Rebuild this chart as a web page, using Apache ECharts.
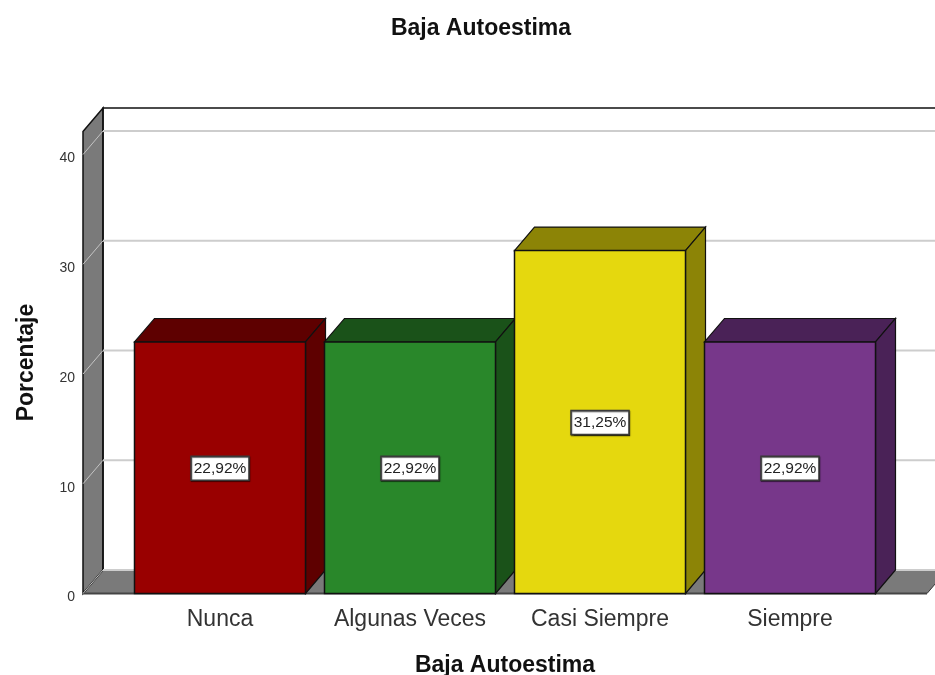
<!DOCTYPE html>
<html>
<head>
<meta charset="utf-8">
<title>Baja Autoestima</title>
<script src="https://cdn.jsdelivr.net/npm/echarts@6/dist/echarts.min.js"></script>
<style>
  html, body { margin: 0; padding: 0; background: #fff; }
  #chart { width: 935px; height: 675px; }
</style>
</head>
<body>
<div id="chart"></div>
<script>
const categories = ['Nunca', 'Algunas Veces', 'Casi Siempre', 'Siempre'];
const values = [22.92, 22.92, 31.25, 22.92];
const yTicks = [0, 10, 20, 30, 40];
const frontColors = ['#990000', '#29872a', '#e5d80e', '#77378a'];
const darkColors = ['#5e0000', '#1a5219', '#8c8406', '#4a2257'];

const FONT = '"Liberation Sans", Arial, sans-serif';
const DX = 20; // depth of the fake 3d box
const DY = -23.5;
const SIDE = 42; // wall/floor overhang past the category bands
const WALL = '#7a7a7a';
const yMax = 42.1;

const chart = echarts.init(document.getElementById('chart'));

function poly(points, fill, stroke, width) {
  return {
    type: 'polygon',
    shape: { points },
    style: { fill, stroke: stroke || null, lineWidth: width || 0 }
  };
}

function renderGrid(params, api) {
  const y = api.coord([0, api.value(0)])[1];
  const x0 = params.coordSys.x - SIDE;
  const x1 = params.coordSys.x + params.coordSys.width + SIDE;
  return {
    type: 'group',
    children: [
      {
        type: 'line',
        shape: { x1: x0, y1: y, x2: x0 + DX, y2: y + DY },
        style: { stroke: '#c4c4c4', lineWidth: 1 }
      },
      {
        type: 'line',
        shape: { x1: x0 + DX, y1: y + DY, x2: x1 + DX, y2: y + DY },
        style: { stroke: '#cdcdcd', lineWidth: 2 }
      }
    ]
  };
}

function renderBox(params, api) {
  const sys = params.coordSys;
  const x0 = sys.x - SIDE;
  const x1 = sys.x + sys.width + SIDE;
  const top = sys.y;
  const bot = sys.y + sys.height;
  return {
    type: 'group',
    children: [
      poly([[x0, bot], [x0 + DX, bot + DY], [x1 + DX, bot + DY], [x1, bot]], WALL, '#333', 1),
      poly([[x0, top], [x0 + DX, top + DY], [x0 + DX, bot + DY], [x0, bot]], WALL, '#111', 1.5),
      {
        type: 'polyline',
        shape: { points: [[x0 + DX, bot + DY], [x0 + DX, top + DY], [x1 + DX, top + DY]] },
        style: { fill: null, stroke: '#111', lineWidth: 1.5 }
      },
      {
        type: 'line',
        shape: { x1: x0, y1: bot, x2: x1, y2: bot },
        style: { stroke: '#444', lineWidth: 2 }
      }
    ]
  };
}

function renderBar(params, api) {
  const i = api.value(0);
  const v = api.value(1);
  const [cx, yTop] = api.coord([i, v]);
  const yBot = api.coord([i, 0])[1];
  const w = api.size([1, 0])[0] * 0.9;
  const l = cx - w / 2;
  const r = cx + w / 2;
  const edge = '#111';
  return {
    type: 'group',
    children: [
      poly([[l, yTop], [l + DX, yTop + DY], [r + DX, yTop + DY], [r, yTop]], darkColors[i], edge, 1.2),
      poly([[r, yTop], [r + DX, yTop + DY], [r + DX, yBot + DY], [r, yBot]], darkColors[i], edge, 1.2),
      poly([[l, yTop], [r, yTop], [r, yBot], [l, yBot]], frontColors[i], edge, 1.5),
      {
        type: 'rect',
        shape: { x: cx - 29, y: (yTop + yBot) / 2 - 11.5, width: 58, height: 24 },
        style: {
          fill: '#fff',
          stroke: '#3a3a3a',
          lineWidth: 1.5,
          shadowColor: 'rgba(0,0,0,0.6)',
          shadowBlur: 1,
          shadowOffsetX: 0.5,
          shadowOffsetY: 1
        }
      },
      {
        type: 'text',
        style: {
          x: cx,
          y: (yTop + yBot) / 2 + 1,
          text: v.toFixed(2).replace('.', ',') + '%',
          align: 'center',
          verticalAlign: 'middle',
          fill: '#222',
          font: '15.5px ' + FONT
        }
      }
    ]
  };
}

chart.setOption({
  animation: false,
  backgroundColor: '#fff',
  title: {
    text: 'Baja Autoestima',
    left: 476,
    top: 12,
    textAlign: 'center',
    textStyle: { fontFamily: FONT, fontSize: 23, fontWeight: 'bold', color: '#111' }
  },
  grid: { left: 125, right: 50, top: 131.5, bottom: 81.5, outerBoundsMode: 'none' },
  xAxis: {
    type: 'category',
    data: categories,
    axisLine: { show: false },
    axisTick: { show: false },
    axisLabel: { interval: 0, margin: 15, fontFamily: FONT, fontSize: 23, color: '#333' },
    name: 'Baja Autoestima',
    nameLocation: 'middle',
    nameGap: 61,
    nameTextStyle: { fontFamily: FONT, fontSize: 23, fontWeight: 'bold', color: '#111' }
  },
  yAxis: {
    type: 'value',
    min: 0,
    max: yMax,
    interval: 10,
    offset: 42,
    splitLine: { show: false },
    axisLine: { show: false },
    axisTick: { show: false },
    axisLabel: {
      customValues: yTicks,
      margin: 8,
      verticalAlign: 'top',
      lineHeight: 8,
      fontFamily: FONT,
      fontSize: 14,
      color: '#333'
    },
    name: 'Porcentaje',
    nameLocation: 'middle',
    nameGap: 45,
    nameTextStyle: { fontFamily: FONT, fontSize: 23, fontWeight: 'bold', color: '#111' }
  },
  series: [
    {
      type: 'custom',
      clip: false,
      z: 1,
      silent: true,
      renderItem: renderBox,
      encode: { x: 0, y: 1 },
      data: [[0, 0]]
    },
    {
      type: 'custom',
      clip: false,
      z: 2,
      silent: true,
      renderItem: renderGrid,
      encode: { y: 0 },
      data: yTicks.map(t => [t])
    },
    {
      type: 'custom',
      clip: false,
      z: 3,
      renderItem: renderBar,
      encode: { x: 0, y: 1 },
      data: values.map((v, i) => [i, v])
    }
  ]
});
</script>
</body>
</html>
